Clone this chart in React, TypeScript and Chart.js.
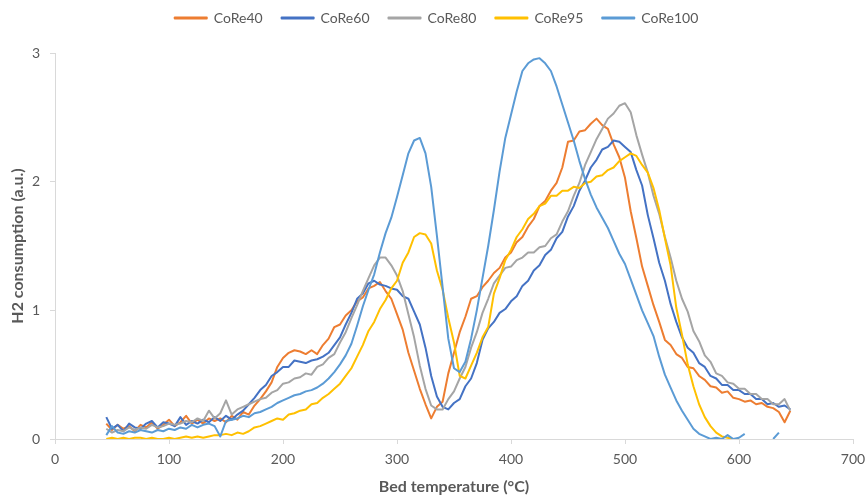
import React, { useEffect, useRef } from "react";
import { Chart, registerables } from "chart.js";

Chart.register(...registerables);

// Bed temperature grid (°C)
const temps = [
  45, 50, 55, 60, 65, 70, 75, 80, 85, 90,
  95, 100, 105, 110, 115, 120, 125, 130, 135, 140,
  145, 150, 155, 160, 165, 170, 175, 180, 185, 190,
  195, 200, 205, 210, 215, 220, 225, 230, 235, 240,
  245, 250, 255, 260, 265, 270, 275, 280, 285, 290,
  295, 300, 305, 310, 315, 320, 325, 330, 335, 340,
  345, 350, 355, 360, 365, 370, 375, 380, 385, 390,
  395, 400, 405, 410, 415, 420, 425, 430, 435, 440,
  445, 450, 455, 460, 465, 470, 475, 480, 485, 490,
  495, 500, 505, 510, 515, 520, 525, 530, 535, 540,
  545, 550, 555, 560, 565, 570, 575, 580, 585, 590,
  595, 600, 605, 610, 615, 620, 625, 630, 635, 640,
  645,
];

const seriesNames = ["CoRe40", "CoRe60", "CoRe80", "CoRe95", "CoRe100"];
const seriesColors = ["#ED7D31", "#4472C4", "#A5A5A5", "#FFC000", "#5B9BD5"];

const core40 = [
  0.12, 0.07, 0.11, 0.08, 0.10, 0.06, 0.11, 0.09, 0.13, 0.08,
  0.11, 0.15, 0.10, 0.13, 0.18, 0.12, 0.15, 0.12, 0.16, 0.14,
  0.16, 0.13, 0.18, 0.15, 0.21, 0.19, 0.26, 0.31, 0.37, 0.44,
  0.56, 0.63, 0.67, 0.69, 0.68, 0.66, 0.69, 0.66, 0.73, 0.78,
  0.87, 0.89, 0.96, 1.00, 1.07, 1.10, 1.17, 1.19, 1.22, 1.15,
  1.09, 0.97, 0.85, 0.67, 0.53, 0.39, 0.27, 0.16, 0.25, 0.29,
  0.51, 0.67, 0.83, 0.95, 1.09, 1.11, 1.18, 1.23, 1.29, 1.33,
  1.41, 1.45, 1.53, 1.57, 1.65, 1.71, 1.81, 1.85, 1.93, 1.99,
  2.11, 2.31, 2.32, 2.39, 2.40, 2.45, 2.49, 2.44, 2.41, 2.29,
  2.19, 2.03, 1.77, 1.56, 1.34, 1.19, 1.04, 0.91, 0.77, 0.73,
  0.66, 0.63, 0.56, 0.55, 0.49, 0.46, 0.41, 0.40, 0.36, 0.37,
  0.32, 0.31, 0.29, 0.30, 0.27, 0.28, 0.25, 0.24, 0.21, 0.13,
  0.22,
];

const core60 = [
  0.17, 0.08, 0.11, 0.06, 0.12, 0.09, 0.08, 0.12, 0.14, 0.09,
  0.13, 0.12, 0.10, 0.17, 0.11, 0.14, 0.12, 0.15, 0.13, 0.17,
  0.14, 0.18, 0.15, 0.19, 0.22, 0.27, 0.32, 0.38, 0.42, 0.49,
  0.52, 0.56, 0.56, 0.61, 0.60, 0.59, 0.61, 0.62, 0.64, 0.67,
  0.73, 0.79, 0.89, 0.98, 1.09, 1.13, 1.21, 1.23, 1.20, 1.19,
  1.17, 1.16, 1.11, 1.09, 0.99, 0.89, 0.71, 0.49, 0.33, 0.25,
  0.23, 0.28, 0.31, 0.41, 0.47, 0.59, 0.77, 0.86, 0.91, 0.98,
  1.01, 1.07, 1.11, 1.19, 1.23, 1.31, 1.35, 1.43, 1.47, 1.56,
  1.61, 1.73, 1.81, 1.93, 2.01, 2.11, 2.17, 2.25, 2.27, 2.32,
  2.31, 2.27, 2.23, 2.09, 1.97, 1.74, 1.56, 1.37, 1.23, 1.05,
  0.91, 0.79, 0.71, 0.67, 0.59, 0.56, 0.49, 0.47, 0.42, 0.42,
  0.38, 0.38, 0.35, 0.35, 0.31, 0.31, 0.27, 0.28, 0.25, 0.26,
  0.23,
];

const core80 = [
  0.08, 0.05, 0.07, 0.06, 0.09, 0.07, 0.09, 0.08, 0.11, 0.09,
  0.10, 0.12, 0.11, 0.12, 0.14, 0.13, 0.16, 0.14, 0.22, 0.16,
  0.20, 0.30, 0.19, 0.23, 0.25, 0.27, 0.29, 0.31, 0.32, 0.36,
  0.38, 0.43, 0.44, 0.47, 0.48, 0.51, 0.50, 0.56, 0.58, 0.63,
  0.66, 0.75, 0.83, 0.94, 1.04, 1.15, 1.25, 1.35, 1.41, 1.41,
  1.35, 1.27, 1.15, 0.97, 0.79, 0.57, 0.39, 0.26, 0.23, 0.23,
  0.31, 0.37, 0.47, 0.56, 0.71, 0.83, 0.98, 1.09, 1.21, 1.27,
  1.33, 1.34, 1.39, 1.41, 1.45, 1.45, 1.49, 1.50, 1.56, 1.59,
  1.69, 1.77, 1.89, 1.99, 2.13, 2.23, 2.33, 2.41, 2.49, 2.53,
  2.59, 2.61, 2.54, 2.36, 2.21, 2.07, 1.89, 1.75, 1.57, 1.41,
  1.23, 1.09, 0.99, 0.84, 0.76, 0.65, 0.60, 0.51, 0.49, 0.44,
  0.43, 0.39, 0.39, 0.35, 0.35, 0.31, 0.31, 0.27, 0.27, 0.31,
  0.22,
];

const core95 = [
  0.00, 0.01, 0.00, 0.01, 0.00, 0.01, 0.01, 0.00, 0.01, 0.00,
  0.00, 0.01, 0.00, 0.01, 0.02, 0.01, 0.02, 0.01, 0.02, 0.03,
  0.03, 0.04, 0.03, 0.05, 0.04, 0.06, 0.09, 0.10, 0.12, 0.14,
  0.16, 0.15, 0.19, 0.20, 0.22, 0.23, 0.27, 0.28, 0.32, 0.35,
  0.39, 0.43, 0.49, 0.55, 0.64, 0.73, 0.84, 0.91, 1.01, 1.08,
  1.17, 1.23, 1.37, 1.45, 1.57, 1.60, 1.59, 1.52, 1.31, 1.16,
  0.94, 0.75, 0.49, 0.47, 0.57, 0.67, 0.79, 0.87, 1.13, 1.25,
  1.39, 1.47, 1.57, 1.63, 1.71, 1.75, 1.81, 1.83, 1.89, 1.89,
  1.93, 1.93, 1.96, 1.95, 1.99, 2.00, 2.04, 2.05, 2.09, 2.11,
  2.16, 2.19, 2.22, 2.20, 2.13, 2.07, 1.95, 1.78, 1.56, 1.35,
  1.02, 0.81, 0.58, 0.41, 0.27, 0.17, 0.10, 0.05, 0.02, 0.01,
  0.00, 0.00, null, null, null, null, null, null, null, null,
  null,
];

const core100 = [
  0.03, 0.10, 0.05, 0.04, 0.06, 0.05, 0.07, 0.06, 0.05, 0.07,
  0.06, 0.08, 0.07, 0.09, 0.08, 0.11, 0.09, 0.11, 0.12, 0.10,
  0.02, 0.14, 0.15, 0.16, 0.18, 0.17, 0.20, 0.21, 0.23, 0.25,
  0.28, 0.30, 0.32, 0.34, 0.35, 0.37, 0.38, 0.40, 0.43, 0.47,
  0.52, 0.58, 0.65, 0.74, 0.88, 1.03, 1.16, 1.28, 1.45, 1.60,
  1.72, 1.88, 2.05, 2.22, 2.32, 2.34, 2.22, 1.96, 1.58, 1.18,
  0.78, 0.55, 0.52, 0.60, 0.78, 1.00, 1.25, 1.50, 1.78, 2.08,
  2.34, 2.52, 2.70, 2.86, 2.92, 2.95, 2.96, 2.92, 2.86, 2.74,
  2.60, 2.46, 2.32, 2.16, 2.02, 1.90, 1.80, 1.72, 1.64, 1.54,
  1.44, 1.36, 1.24, 1.12, 1.00, 0.90, 0.80, 0.64, 0.50, 0.40,
  0.30, 0.22, 0.15, 0.08, 0.04, 0.02, 0.00, 0.01, 0.00, 0.03,
  0.00, 0.01, 0.04, null, null, null, null, 0.00, 0.05, null,
  null,
];

const seriesValues = [core40, core60, core80, core95, core100];

const xTitle = "Bed temperature (°C)";
const yTitle = "H2 consumption (a.u.)";

const FONT = "Lato, 'Open Sans', sans-serif";
const TEXT = "#595959";
const AXIS = "#D9D9D9";

export default function App() {
  const ref = useRef<HTMLCanvasElement | null>(null);

  useEffect(() => {
    if (!ref.current) return;
    const datasets = seriesNames.map((name, i) => ({
      label: name,
      data: temps.map((t, j) => ({ x: t, y: seriesValues[i][j] })),
      borderColor: seriesColors[i],
      backgroundColor: seriesColors[i],
      borderWidth: 2,
      pointRadius: 0,
      tension: 0,
      spanGaps: false,
      borderJoinStyle: "round" as const,
      order: seriesNames.length - i,
    }));

    const legendMargin = {
      id: "legendMargin",
      beforeInit(chart: any) {
        const lg = chart.legend;
        if (!lg) return;
        const origFit = lg.fit;
        lg.fit = function () {
          origFit.call(this);
          this.height += 19;
        };
        const origDraw = lg.draw;
        lg.draw = function () {
          const ctx = this.ctx;
          ctx.save();
          ctx.translate(10, 1);
          origDraw.call(this);
          ctx.restore();
        };
      },
    };

    const chart = new Chart(ref.current, {
      type: "line",
      data: { datasets },
      plugins: [legendMargin],
      options: {
        animation: false,
        responsive: false,
        events: [],
        layout: { padding: { top: -9, right: 15, bottom: 0, left: 0 } },
        plugins: {
          tooltip: { enabled: false },
          legend: {
            position: "top",
            labels: {
              boxWidth: 32,
              boxHeight: 1,
              padding: 19,
              color: TEXT,
              font: { family: FONT, size: 14 },
              sort: (a: any, b: any) => a.datasetIndex - b.datasetIndex,
            },
          },
        },
        scales: {
          x: {
            type: "linear",
            min: 0,
            max: 700,
            afterFit: (s: any) => {
              s.height = 58;
              s.paddingRight = 0;
            },
            ticks: {
              stepSize: 100,
              maxRotation: 0,
              padding: 7,
              color: TEXT,
              font: { family: FONT, size: 14 },
            },
            grid: {
              display: true,
              drawOnChartArea: false,
              drawTicks: true,
              tickLength: 5,
              color: AXIS,
            },
            border: { display: true, color: AXIS, width: 1 },
            title: {
              display: true,
              text: xTitle,
              color: TEXT,
              font: { family: FONT, size: 16, weight: "bold" },
              padding: { top: 2, bottom: 1 },
            },
          },
          y: {
            type: "linear",
            min: 0,
            max: 3,
            afterFit: (s: any) => {
              s.width = 55;
            },
            ticks: {
              stepSize: 1,
              padding: 10,
              color: TEXT,
              font: { family: FONT, size: 14 },
            },
            grid: {
              display: true,
              drawOnChartArea: false,
              drawTicks: true,
              tickLength: 5,
              color: AXIS,
            },
            border: { display: true, color: AXIS, width: 1 },
            title: {
              display: true,
              text: yTitle,
              color: TEXT,
              font: { family: FONT, size: 16, weight: "bold" },
              padding: { top: 8, bottom: 4 },
            },
          },
        },
      },
    } as any);

    return () => chart.destroy();
  }, []);

  return (
    <div style={{ position: "fixed", left: 0, top: 0, width: 868, height: 497, background: "#fff" }}>
      <canvas ref={ref} width={868} height={497} style={{ display: "block" }} />
    </div>
  );
}
